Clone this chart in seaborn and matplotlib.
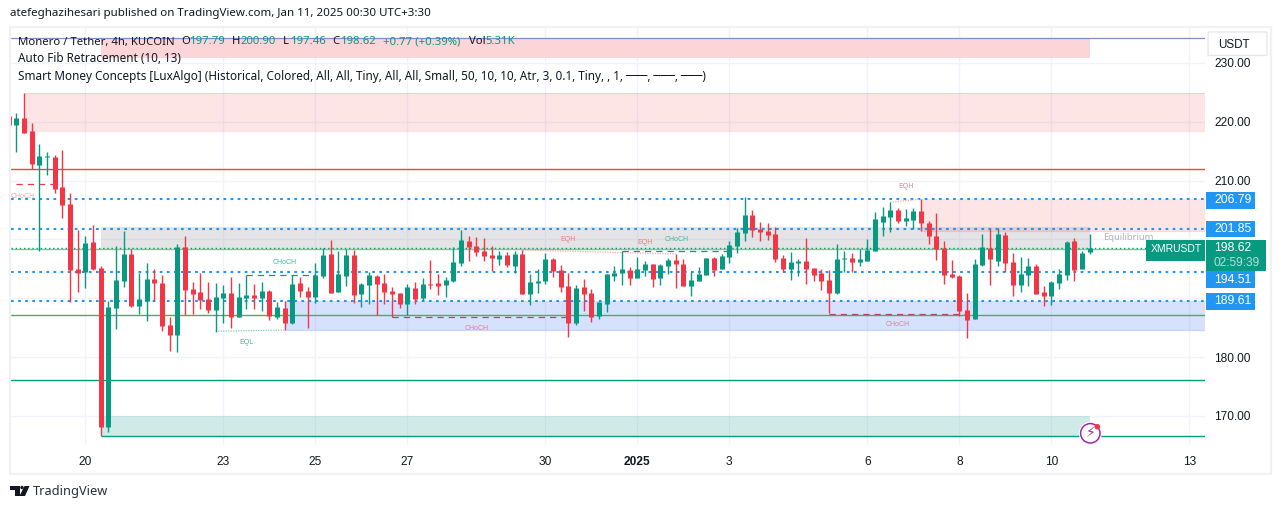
# XMR/USDT 4h candle chart, TradingView look
import numpy as np
import pandas as pd
import matplotlib.pyplot as plt
from matplotlib.patches import Rectangle, FancyBboxPatch, Circle, Polygon
import seaborn as sns

# ------------------------------------------------------------
# DATA, bars are 4h, bar 0 = Dec 20 00:00
# ------------------------------------------------------------
first_bar = -10
opens = [220.98, 219.45, 220.64, 218.43, 212.71, 214.0, 214.0, 208.85, 206.02, 194.98,
         194.41, 199.57, 195.15, 168.19, 188.35, 192.94, 197.53, 188.69, 189.6, 193.28,
         192.6, 185.46, 183.76, 198.72, 191.58, 191.07, 189.88, 188.01, 190.05, 190.9,
         186.82, 190.05, 190.56, 190.05, 191.24, 186.82, 188.35, 185.8, 192.6, 191.24,
         190.22, 193.79, 197.52, 191.07, 193.79, 197.35, 190.73, 192.26, 193.79, 192.6,
         191.24, 190.9, 189.03, 191.75, 190.05, 192.43, 192.6, 192.26, 192.94, 196.0,
         199.73, 198.88, 198.03, 197.35, 196.68, 197.35, 195.49, 197.52, 190.73, 192.6,
         192.94, 196.68, 194.81, 192.09, 185.8, 191.92, 190.9, 186.99, 189.03, 193.79,
         194.3, 194.81, 193.45, 194.81, 195.83, 193.45, 195.49, 196.51, 195.83, 192.09,
         192.94, 193.96, 196.85, 194.98, 197.02, 198.89, 201.09, 204.15, 201.77, 201.43,
         200.92, 196.85, 194.98, 195.99, 196.34, 195.15, 194.3, 193.11, 190.9, 196.68,
         196.85, 196.17, 196.34, 198.04, 202.96, 203.81, 205.0, 203.13, 203.3, 204.83,
         202.79, 200.59, 198.55, 194.13, 193.79, 188.01, 186.48, 195.66, 198.55, 196.34,
         200.75, 196.17, 192.26, 193.96, 195.49, 191.07, 190.39, 192.6, 193.96, 199.74,
         195.0, 197.79]
highs = [220.98, 221.43, 224.83, 219.73, 216.22, 214.8, 214.35, 215.2, 207.83, 201.6,
         200.6, 202.4, 195.49, 189.54, 198.83, 201.43, 198.32, 194.3, 196.0, 194.98,
         193.9, 186.82, 199.23, 200.6, 192.77, 194.3, 192.77, 192.6, 192.26, 193.62,
         192.6, 193.96, 192.43, 192.77, 191.41, 189.37, 189.54, 193.9, 193.62, 191.92,
         196.0, 198.49, 199.9, 198.04, 198.37, 198.26, 192.6, 194.47, 193.96, 194.13,
         191.92, 190.9, 192.43, 192.77, 193.45, 196.51, 194.13, 193.62, 198.71, 201.6,
         200.58, 200.41, 200.24, 198.88, 198.03, 197.86, 198.03, 198.2, 194.13, 194.98,
         197.7, 196.85, 195.66, 194.3, 192.26, 193.28, 191.58, 189.37, 194.13, 195.49,
         197.98, 195.32, 197.02, 196.34, 195.83, 195.83, 196.85, 197.53, 196.68, 194.47,
         195.32, 196.85, 197.02, 197.53, 199.73, 201.94, 207.15, 205.0, 202.96, 202.79,
         202.11, 197.36, 197.87, 196.68, 200.24, 195.15, 194.98, 194.81, 199.22, 198.04,
         197.7, 198.38, 200.07, 204.66, 205.51, 206.36, 205.34, 205.17, 205.34, 206.87,
         203.13, 204.49, 199.74, 196.51, 193.96, 190.9, 196.68, 200.92, 201.77, 201.94,
         201.26, 197.7, 197.02, 196.85, 195.83, 192.09, 192.94, 194.98, 199.74, 200.25,
         198.04, 200.9]
lows = [219.45, 214.92, 218.15, 211.9, 198.09, 211.0, 207.95, 203.7, 189.43, 191.13,
        191.8, 194.8, 166.66, 167.34, 184.84, 191.92, 188.52, 187.33, 186.14, 189.71,
        184.44, 181.04, 180.87, 187.16, 187.33, 188.18, 187.5, 184.33, 185.8, 184.95,
        186.82, 188.18, 188.18, 187.84, 186.31, 186.48, 184.61, 185.63, 190.22, 184.95,
        189.2, 193.45, 190.9, 191.07, 192.09, 189.2, 188.52, 189.03, 187.16, 189.03,
        186.76, 188.35, 187.1, 189.03, 189.71, 191.58, 190.56, 190.22, 192.77, 195.49,
        196.34, 197.18, 196.34, 194.64, 195.66, 195.32, 194.3, 190.73, 188.86, 190.9,
        192.43, 193.62, 191.07, 183.42, 185.46, 187.84, 185.97, 186.48, 187.67, 192.94,
        192.26, 192.26, 193.45, 193.79, 191.92, 192.26, 194.13, 191.75, 192.09, 190.39,
        192.94, 193.96, 193.79, 194.98, 196.0, 197.7, 199.73, 200.41, 199.73, 199.9,
        196.17, 194.47, 193.11, 193.79, 192.43, 192.94, 191.41, 187.44, 190.73, 194.47,
        194.47, 195.49, 196.34, 198.04, 200.58, 201.26, 202.79, 202.28, 201.77, 201.43,
        199.23, 196.51, 192.43, 193.45, 187.0, 183.25, 186.48, 195.49, 192.26, 195.49,
        194.47, 190.39, 191.07, 192.09, 190.73, 188.69, 188.86, 191.58, 193.11, 192.94,
        195.0, 197.46]
closes = [219.45, 220.58, 218.15, 212.88, 214.18, 214.1, 208.63, 205.91, 194.86, 194.35,
          199.4, 195.03, 168.19, 188.52, 193.1, 197.53, 188.69, 189.88, 193.28, 192.6,
          185.29, 183.76, 198.72, 191.41, 190.73, 189.71, 188.01, 190.22, 190.9, 186.82,
          190.22, 190.56, 190.05, 191.24, 186.99, 188.52, 185.8, 192.43, 191.24, 190.22,
          193.96, 197.35, 190.9, 194.13, 197.35, 190.56, 192.43, 193.96, 192.43, 191.07,
          190.73, 189.03, 191.92, 189.88, 192.43, 192.26, 192.09, 193.11, 196.17, 199.9,
          198.71, 197.86, 197.18, 196.85, 197.35, 195.66, 197.52, 190.73, 192.77, 192.94,
          196.68, 194.64, 191.92, 185.8, 191.75, 190.73, 186.82, 189.37, 194.13, 194.3,
          194.98, 193.45, 194.98, 195.83, 193.28, 195.66, 196.51, 195.83, 192.09, 193.11,
          194.13, 196.85, 194.81, 197.19, 199.06, 201.26, 204.15, 201.6, 201.26, 200.75,
          196.68, 194.98, 196.17, 196.34, 194.98, 193.96, 192.94, 190.9, 196.68, 196.85,
          196.17, 196.68, 198.2, 203.47, 203.98, 205.0, 203.13, 203.64, 204.83, 202.79,
          200.59, 198.38, 193.96, 193.62, 187.84, 186.31, 195.83, 198.72, 196.68, 200.92,
          196.0, 192.26, 194.13, 195.49, 190.73, 190.39, 192.77, 194.13, 199.57, 194.81,
          197.7, 198.62]

fib_levels = [206.79, 201.85, 194.51, 189.61]
price_ticks = [170, 180, 190, 200, 210, 220, 230]
# 190 and 200 sit behind the blue price boxes in the original
price_labels = ["170.00", "180.00", "", "", "210.00", "220.00", "230.00"]
date_bars = [0, 18, 30, 42, 60, 72, 84, 102, 114, 126, 144]
date_labels = ["20", "23", "25", "27", "30", "2025", "3", "6", "8", "10", "13"]

UP = "#089981"
DOWN = "#f23645"
TEXT = "#131722"
GRID = "#f0f3fa"
BLUE = "#2196f3"

bars = np.arange(first_bar, first_bar + len(opens))
df = pd.DataFrame({"bar": bars, "open": opens, "high": highs, "low": lows, "close": closes})
df["side"] = np.where(df["close"] >= df["open"], "up", "down")
palette = {"up": UP, "down": DOWN}

# long tables for seaborn: two rows for each bar, drawn as separate units
wicks = df.melt(id_vars=["bar", "side"], value_vars=["high", "low"], value_name="price")
bodies = df.melt(id_vars=["bar", "side"], value_vars=["open", "close"], value_name="price")

# ------------------------------------------------------------
# FIGURE
# ------------------------------------------------------------
sns.set_theme(style="white")
plt.rcParams["font.family"] = ["Liberation Sans", "DejaVu Sans"]

W, H = 1281, 509
fig = plt.figure(figsize=(W / 100, H / 100), dpi=100, facecolor="white")


def fx(x):
    return x / W


def fy(y):
    return 1 - y / H


def ftext(x, y, s, **kw):
    kw.setdefault("va", "center")
    kw.setdefault("color", TEXT)
    kw.setdefault("zorder", 20)
    return fig.text(fx(x), fy(y), s, **kw)


def fbox(x0, y0, x1, y1, color, zorder=10):
    fig.add_artist(FancyBboxPatch((fx(x0), fy(y1)), (x1 - x0) / W, (y1 - y0) / H,
                                  boxstyle="square,pad=0", fc=color, ec="none",
                                  transform=fig.transFigure, zorder=zorder))


ax = fig.add_axes([fx(10.5), fy(445), (1205 - 10.5) / W, (445 - 28) / H])
ax.set_xlim(-9.76, 146.04)
ax.set_ylim(165.07, 235.93)
ax.set_facecolor("white")
for s in ax.spines.values():
    s.set_visible(False)

# grid
ax.set_xticks(date_bars)
ax.set_xticklabels(date_labels)
ax.set_yticks(price_ticks)
ax.set_yticklabels(price_labels)
ax.yaxis.tick_right()
ax.tick_params(axis="both", length=0, labelsize=8.6, labelcolor=TEXT)
ax.tick_params(axis="y", pad=6.5)
ax.tick_params(axis="x", pad=8)
ax.get_xticklabels()[5].set_fontweight("bold")
ax.grid(True, color=GRID, linewidth=1.0)
ax.set_axisbelow(True)

# zones
ax.fill_between([2, 131], 230.88, 234.18, color="#fbd5d8", lw=0, zorder=1)
ax.fill_between([-8, 146.04], 218.4, 224.8, color="#f23645", alpha=0.13, lw=0, zorder=1)
ax.fill_between([2, 131], 198.38, 202.1, color="#787b86", alpha=0.2, lw=0, zorder=1)
ax.fill_between([109, 146.04], 201.5, 206.8, color="#f23645", alpha=0.13, lw=0, zorder=1)
ax.fill_between([26, 146.04], 184.67, 189.6, color="#2962ff", alpha=0.19, lw=0, zorder=1)
ax.fill_between([2, 131], 166.65, 170.0, color="#089981", alpha=0.19, lw=0, zorder=1)
ax.hlines([218.4, 224.8], -8, 146.04, color="#f23645", alpha=0.15, lw=0.8, zorder=1)
ax.hlines(201.5, 109, 146.04, color="#f23645", alpha=0.2, lw=0.8, zorder=1)
ax.hlines(184.67, 26, 146.04, color="#2962ff", alpha=0.25, lw=0.9, zorder=1)

# horizontal levels
ax.axhline(234.18, color="#7f8fc0", lw=0.9, zorder=2)
ax.axhline(211.9, color="#f44336", lw=1.0, zorder=2)
ax.axhline(198.38, color="#81c995", lw=1.0, zorder=2)
ax.axhline(187.1, color="#4caf50", lw=1.0, zorder=2)
ax.axhline(176.05, color=UP, lw=1.0, zorder=2)
ax.hlines(166.65, 2, 146.04, color=UP, lw=1.0, zorder=2)
ax.axhline(198.62, color=UP, lw=1.0, ls=(0, (1, 2)), zorder=3)
for level in fib_levels:
    ax.axhline(level, color=BLUE, lw=1.5, ls=(0, (1.3, 2.1)), dash_capstyle="butt", zorder=3)

# structure lines
ax.plot([-9, -4], [209.36, 209.36], color=DOWN, lw=0.9, ls=(0, (5, 4)), zorder=3)
ax.plot([21, 30], [193.9, 193.9], color=UP, lw=0.9, ls=(0, (5, 4)), zorder=3)
ax.plot([70, 84], [197.98, 197.98], color=UP, lw=0.9, ls=(0, (5, 4)), zorder=3)
ax.plot([40, 63], [186.76, 186.76], color="#b2476b", lw=0.9, ls=(0, (5, 4)), zorder=3)
ax.plot([97, 115], [187.4, 187.4], color="#b2476b", lw=0.9, ls=(0, (5, 4)), zorder=3)
ax.plot([17, 26], [184.39, 184.61], color="#7fcdbb", lw=0.9, ls=(0, (1, 1)), zorder=3)
ax.plot([57, 77], [198.2, 197.53], color="#f7a8ae", lw=0.9, ls=(0, (1, 1)), zorder=3)
ax.plot([105, 109], [206.3, 206.87], color="#f7a8ae", lw=0.9, ls=(0, (1, 1)), zorder=3)

# candles
sns.lineplot(data=wicks, x="bar", y="price", hue="side", units="bar", estimator=None,
             palette=palette, linewidth=1.0, legend=False, sort=False, ax=ax, zorder=5,
             solid_capstyle="butt")
sns.lineplot(data=bodies, x="bar", y="price", hue="side", units="bar", estimator=None,
             palette=palette, linewidth=3.6, legend=False, sort=False, ax=ax, zorder=6,
             solid_capstyle="butt")
ax.set_xlabel("")
ax.set_ylabel("")
ax.set_xlim(-9.76, 146.04)
ax.set_ylim(165.07, 235.93)

# small tags
tags = [(23, 197, "CHoCH", "#f9a0a8"), (284.5, 262.7, "CHoCH", "#3fb79a"),
        (246.5, 342.5, "EQL", "#3fb79a"), (568, 239.7, "EQH", "#f27a86"),
        (476.5, 328, "CHoCH", "#f27a86"), (645, 242.7, "EQH", "#f27a86"),
        (676.5, 239.3, "CHoCH", "#3fb79a"), (898, 325, "CHoCH", "#f27a86"),
        (906, 186.7, "EQH", "#f27a86")]
for x, y, s, c in tags:
    ftext(x, y, s, color=c, fontsize=5.0, ha="center")
ftext(1103, 237, "Equilibrium", color="#b2b5be", fontsize=6.8, family="Noto Sans")

# frame
fig.add_artist(Rectangle((fx(10), fy(474)), 1261 / W, 447 / H, fill=False, ec="#eff1f5",
                         lw=1.6, transform=fig.transFigure, zorder=9))

# price labels
for y0, y1, yt, s in [(192, 208.7, 200.4, "206.79"), (221, 237, 229, "201.85"),
                      (271, 288, 280, "194.51"), (293, 310, 301.5, "189.61")]:
    fbox(1206, y0, 1255, y1, BLUE)
    ftext(1214, yt, s, color="white", fontsize=8.8)
fbox(1146, 240, 1205, 261, UP, zorder=11)
ftext(1150.5, 249.5, "XMRUSDT", color="white", fontsize=7.5)
fbox(1206, 240, 1266, 271, UP, zorder=11)
ftext(1214, 248.5, "198.62", color="white", fontsize=8.8)
ftext(1214, 263, "02:59:39", color="#b5e0d7", fontsize=8.6)

# currency button
fig.add_artist(FancyBboxPatch((fx(1210), fy(54.7)), 55 / W, 22 / H,
                              boxstyle="round,pad=0.0015", fc="white", ec="#e6e8f0", lw=1,
                              transform=fig.transFigure, zorder=10))
ftext(1218, 44.5, "USDT", fontsize=8.4)

# header
FONT = "Noto Sans"
ftext(10, 13.5, "atefeghazihesari published on TradingView.com, Jan 11, 2025 00:30 UTC+3:30",
      fontsize=8.3, family=FONT)
ftext(18, 42, "Monero / Tether, 4h, KUCOIN", fontsize=8.15, family=FONT)
for x, s, c in [(181, "O", TEXT), (190, "197.79", UP), (232, "H", TEXT), (241, "200.90", UP),
                (283, "L", TEXT), (291, "197.46", UP), (332, "C", TEXT), (341, "198.62", UP),
                (383, "+0.77 (+0.39%)", UP), (469, "Vol", TEXT), (485, "5.31K", UP)]:
    ftext(x, 42, s, color=c, fontsize=8.15, family=FONT)
ftext(18, 59, "Auto Fib Retracement (10, 13)", fontsize=8.45, family=FONT)
ftext(18, 76.5, "Smart Money Concepts [LuxAlgo] (Historical, Colored, All, All, Tiny, All, All, "
      "Small, 50, 10, 10, Atr, 3, 0.1, Tiny, , 1, ───, ───, ───)", fontsize=8.45,
      family=[FONT, "DejaVu Sans"])

# lightning badge
fig.add_artist(Circle((1090.3, H - 433.3), 11.5, fc="white", ec="none",
                      transform=None, zorder=12))
fig.add_artist(Circle((1090.3, H - 433.3), 9.7, fc="white", ec="#9c27b0", lw=1.1,
                      transform=None, zorder=13))
fig.add_artist(Circle((1097.3, H - 426.7), 2.8, fc=DOWN, ec="none", transform=None, zorder=14))
ftext(1090.3, 433.5, "\u26a1", color="#9c27b0", fontsize=10, ha="center",
      family="DejaVu Sans")

# logo
ftext(33, 491.5, "TradingView", fontsize=9.2, family=FONT, color="#2a2e39")
for pts in [[(10, 486), (20, 486), (20, 496), (15, 496), (15, 490), (10, 490)],
            [(24.5, 486), (29.5, 486), (25, 496), (19.5, 496)]]:
    fig.add_artist(Polygon([(fx(a), fy(b)) for a, b in pts], fc="#131722", ec="none",
                           transform=fig.transFigure, zorder=10))
fig.add_artist(Circle((22, H - 487.5), 1.7, fc="#131722", ec="none", transform=None, zorder=10))

fig.savefig("out.png", dpi=100)
